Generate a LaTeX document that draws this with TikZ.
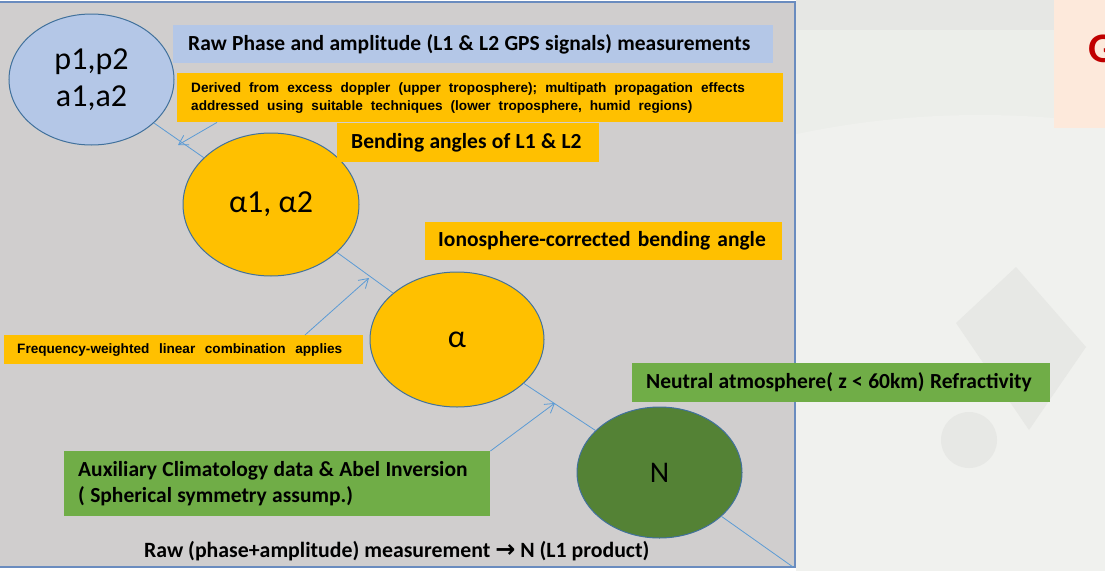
\documentclass[tikz,border=0pt]{standalone}
\usepackage{fontspec}
\setmainfont{Carlito}
\newfontfamily\arialfont{Liberation Sans}
\newfontfamily\symfont{DejaVu Sans}
\usetikzlibrary{arrows.meta,calc,shapes.geometric}

\definecolor{panelgray}{HTML}{D0CECE}
\definecolor{panelline}{HTML}{6A8CBF}
\definecolor{lblue}{HTML}{B4C7E7}
\definecolor{gold}{HTML}{FFC000}
\definecolor{lgreen}{HTML}{70AD47}
\definecolor{dgreen}{HTML}{548235}
\definecolor{edge}{HTML}{41719C}
\definecolor{linkblue}{HTML}{5B9BD5}
\definecolor{photo}{HTML}{ECEEEA}
\definecolor{phototop}{HTML}{E6E7E4}
\definecolor{earth}{HTML}{F0F1EE}
\definecolor{sat}{HTML}{E7E8E5}
\definecolor{peach}{HTML}{FDE9DB}
\definecolor{darkred}{HTML}{C00000}

% word gaps inside left-aligned node text
\newcommand{\tightgaps}{\spaceskip=0.25em\relax}
\newcommand{\widegaps}[1][8pt]{\spaceskip=#1\relax}

\tikzset{
  stage/.style={ellipse, draw=edge, line width=1pt, inner sep=0pt, align=center,
    font=\fontsize{32}{37}\selectfont},
  label/.style={rectangle, inner ysep=0pt, inner xsep=14pt, align=left, anchor=north west,
    font=\bfseries\fontsize{21.5}{26}\selectfont},
  note/.style={rectangle, inner ysep=0pt, inner xsep=14pt, align=left, anchor=north west,
    font=\arialfont\bfseries\fontsize{13.6}{18}\selectfont},
  link/.style={draw=linkblue, line width=0.8pt},
  feed/.style={link, -{Straight Barb[length=9pt,width=11pt]}},
}

\begin{document}
\begin{tikzpicture}[x=1pt,y=-1pt]
\useasboundingbox (0,0) rectangle (1105,570);
\fill[white] (0,0) rectangle (1105,570);

% faded photograph behind the slide content
\begin{scope}
  \clip (796,0) rectangle (1105,570);
  \fill[photo] (796,0) rectangle (1105,570);
  \fill[phototop] (796,0) rectangle (1105,30);
  \fill[earth] (980,1000) circle (885pt);
  \fill[sat] (1016,267) -- (1086,347) -- (1029,430) -- (956,323) -- cycle;
  \fill[sat] (969,440) circle (28pt);
  \fill[peach] (1054,0) rectangle (1105,128);
  \node[anchor=west, inner sep=0pt, text=darkred, font=\bfseries\fontsize{42}{44}\selectfont]
    (title) at (1088,49) {G};
\end{scope}

% grey panel
\draw[panelline, line width=1.2pt, fill=panelgray] (-5,2) rectangle (795,567);

% processing stages
\node[stage, fill=lblue, minimum width=165pt, minimum height=131pt] (p) at (91.5,79.5) {p1,p2\\a1,a2};
\node[stage, fill=gold, minimum width=176pt, minimum height=143pt] (a12) at (271,204.5) {α1, α2};
\node[stage, fill=gold, minimum width=174pt, minimum height=135pt] (a) at (457,339.5) {α};
\node[stage, fill=dgreen, minimum width=165pt, minimum height=131pt, font=\fontsize{30}{34}\selectfont] (N) at (659.5,472.5) {N};

% chain links
\coordinate (end) at (793,567);
\draw[link] (p) -- (a12);
\draw[link] (a12) -- (a);
\draw[link] (a) -- (N);
\draw[link] (N) -- (end);

% labels
\node[label, fill=lblue, text width=570pt, minimum height=38pt, inner xsep=15pt] (raw) at (173,25)
  {\tightgaps\mbox{Raw Phase and amplitude (L1 \& L2 GPS signals) measurements}};
\node[note, fill=gold, text width=578pt, minimum height=49pt] (derived) at (177,73)
  {\widegaps\mbox{Derived from excess doppler (upper troposphere); multipath propagation effects}\\\mbox{addressed using suitable techniques (lower troposphere, humid regions)}};
\node[label, fill=gold, text width=234pt, minimum height=39pt] (bend) at (337,123)
  {\tightgaps\mbox{Bending angles of L1 \& L2}};
\node[label, fill=gold, text width=331pt, minimum height=38pt, inner xsep=13pt] (iono) at (425,222)
  {\spaceskip=0.33em\relax\mbox{Ionosphere-corrected bending angle}};
\node[note, fill=gold, text width=333pt, minimum height=29pt, inner xsep=13pt] (freq) at (4,335)
  {\widegaps[9.6pt]\mbox{Frequency-weighted linear combination applies}};
\node[label, fill=lgreen, text width=390pt, minimum height=39pt] (neutral) at (632,363)
  {\tightgaps\mbox{Neutral atmosphere( z < 60km) Refractivity}};
\node[label, fill=lgreen, text width=398pt, minimum height=65pt] (aux) at (64,451)
  {\tightgaps\mbox{Auxiliary Climatology data \& Abel Inversion}\\\mbox{( Spherical symmetry assump.)}};
\node[anchor=base west, inner sep=0pt, font=\bfseries\fontsize{21.8}{24}\selectfont] (chain) at (144,557)
  {Raw (phase+amplitude) measurement {\symfont\bfseries\fontsize{24}{24}\selectfont →} N (L1 product)};

% side inputs
\coordinate (t1) at (178,145);
\coordinate (t2) at (369,278);
\coordinate (t3) at (555,403);
\draw[feed] ([xshift=40pt]derived.south west) -- (t1);
\draw[feed] ([xshift=301pt]freq.north west) -- (t2);
\draw[feed] (aux.north east) -- (t3);
\end{tikzpicture}
\end{document}
